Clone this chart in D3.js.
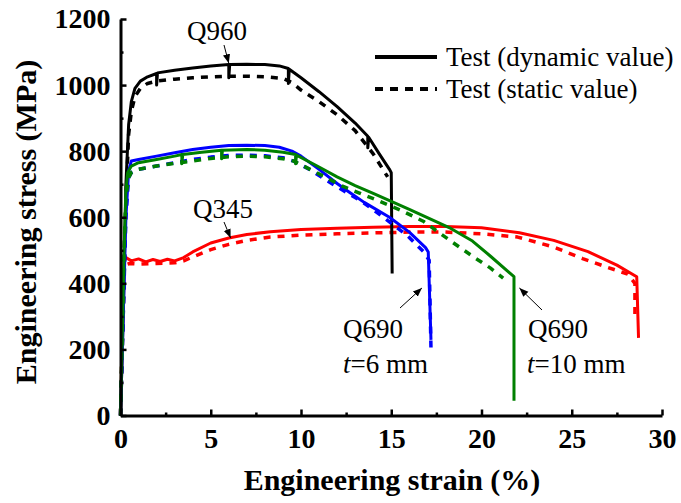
<!DOCTYPE html>
<html>
<head>
<meta charset="utf-8">
<script src="https://cdn.jsdelivr.net/npm/d3@7"></script>
<style>
  body { margin: 0; background: #fff; }
</style>
</head>
<body>
<div id="chart"></div>
<script>
// dati: [deformazione %, tensione MPa]
var q960Dyn = [[0,0],[0.15,300],[0.3,700],[0.45,880],[0.6,950],[0.8,990],[1.1,1012],[1.5,1025],[2,1035],[2,1000],[2.05,1037],
  [3,1045],[4,1052],[5,1058],[6,1062],[6,1022],[6.05,1062],[7,1063],[8,1062],[8.8,1058],[9.3,1050],[9.3,1005],[9.35,1048],
  [10,1022],[11,980],[12,935],[13,885],[13.7,845],[13.7,810],[13.75,842],[14.3,795],[14.9,745],[15,735],[15.05,430]];
var q960Sta = [[0,0],[0.15,300],[0.3,650],[0.45,850],[0.6,920],[0.8,965],[1.1,990],[1.5,1005],[2,1012],[3,1018],[4,1022],
  [5,1025],[6,1027],[7,1027],[8,1025],[9,1020],[9.5,1008],[10,985],[11,950],[12,910],[13,862],[14,792],[14.8,722]];
var q690t6Dyn = [[0,0],[0.15,300],[0.3,600],[0.45,740],[0.6,770],[1,775],[2,785],[3,795],[4,805],[5,812],[6,817],[7,818],
  [8,817],[8.8,812],[9.5,800],[10,785],[11,745],[12,702],[12.7,675],[13.5,645],[14.9,600],[16,555],[16.9,508],[17.05,495],[17.2,229]];
var q690t6Sta = [[0,0],[0.15,300],[0.3,600],[0.45,720],[0.6,735],[1,745],[2,755],[3,765],[4,775],[5,782],[6,787],[7,788],
  [8,786],[9,780],[9.6,770],[10.5,744],[12,692],[13.3,650],[14.2,615],[15.9,544],[16.8,495],[17.1,470],[17.2,205]];
var q690t10Dyn = [[0,0],[0.1,250],[0.2,500],[0.3,680],[0.4,735],[0.6,755],[1,765],[2,775],[3,785],[3.4,790],[3.4,762],[3.45,790],
  [4.5,797],[5.6,803],[5.6,777],[5.65,803],[7,805],[8,803],[9,797],[9.7,790],[9.7,762],[9.75,788],[11,752],[12,722],[13,696],
  [14,672],[15,648],[16,624],[17,599],[18.3,566],[19.5,528],[20.5,482],[21.8,420],[21.8,45]];
var q690t10Sta = [[0,0],[0.1,250],[0.2,500],[0.3,660],[0.45,720],[0.6,735],[1,745],[2,755],[3,763],[4,770],[5,778],[6,783],
  [7,785],[8,783],[9,777],[9.6,770],[10.5,745],[11.3,723],[12.3,694],[13.2,674],[14.2,652],[15.5,622],[16.8,587],[18.3,528],
  [19.5,482],[20.5,446],[21.2,416]];
var q345Dyn = [[0,0],[0.1,250],[0.2,470],[0.3,478],[0.6,468],[1,474],[1.4,465],[1.8,472],[2.2,466],[2.6,473],[3,468],[3.5,478],
  [4,495],[5,522],[6,537],[7,548],[8.3,556],[10,563],[12,567],[14,570],[16,572],[18,572],[20,568],[22.1,553],[24,530],
  [25.9,496],[27.5,455],[28.6,420],[28.7,235]];
var q345Sta = [[0,0],[0.1,240],[0.2,455],[0.5,460],[1,458],[2,460],[3,462],[3.5,468],[4,480],[5,502],[6,518],[7,530],
  [8.3,540],[10,546],[12,550],[14.2,553],[16,555],[18,555],[20,550],[22,540],[24,510],[25.6,475],[27,448],[28.1,428],
  [28.5,400],[28.5,290]];

var xTicks = [0,5,10,15,20,25,30];
var yTicks = [0,200,400,600,800,1000,1200];
var legendLabels = ["Test (dynamic value)", "Test (static value)"];

var larghezza = 681, altezza = 503;
var carattere = '"Times New Roman", "Liberation Serif", Times, "DejaVu Serif", serif';

var x = d3.scaleLinear().domain([0,30]).range([120.5,662]);
var y = d3.scaleLinear().domain([0,1200]).range([415.5,19]);

var svg = d3.select("#chart").append("svg")
  .attr("width", larghezza)
  .attr("height", altezza)
  .attr("font-family", carattere);

svg.append("defs").append("marker")
  .attr("id","freccia")
  .attr("viewBox","0 0 10 10")
  .attr("refX",10).attr("refY",5)
  .attr("markerWidth",9).attr("markerHeight",9)
  .attr("markerUnits","userSpaceOnUse")
  .attr("orient","auto")
  .append("path").attr("d","M0,1 L10,5 L0,9 z").attr("fill","#000");

var linea = d3.line().x(function(d){ return x(d[0]); }).y(function(d){ return y(d[1]); });

var serie = [
  {dati: q345Sta, colore: "#ff0000", tratt: true},
  {dati: q345Dyn, colore: "#ff0000", tratt: false},
  {dati: q960Sta, colore: "#000000", tratt: true},
  {dati: q960Dyn, colore: "#000000", tratt: false},
  {dati: q690t6Sta, colore: "#0000ff", tratt: true},
  {dati: q690t6Dyn, colore: "#0000ff", tratt: false},
  {dati: q690t10Sta, colore: "#008000", tratt: true},
  {dati: q690t10Dyn, colore: "#008000", tratt: false}
];

svg.selectAll("path.curva")
  .data(serie)
  .enter().append("path")
  .attr("class","curva")
  .attr("d", function(d){ return linea(d.dati); })
  .attr("fill","none")
  .attr("stroke", function(d){ return d.colore; })
  .attr("stroke-width", function(d){ return d.tratt ? 3.5 : 3; })
  .attr("stroke-dasharray", function(d){ return d.tratt ? "7,7" : null; })
  .attr("stroke-linejoin","round");

// assi
svg.append("g").attr("transform","translate(0,"+y(0)+")")
  .call(d3.axisBottom(x).tickValues(xTicks).tickSize(-6).tickSizeOuter(0).tickPadding(13).tickFormat(d3.format("d")));
svg.append("g").attr("transform","translate(0,"+y(0)+")")
  .call(d3.axisBottom(x).tickValues([2.5,7.5,12.5,17.5,22.5,27.5]).tickSize(-3).tickSizeOuter(0).tickFormat(""))
  .select(".domain").remove();
svg.append("g").attr("transform","translate("+x(0)+",0)")
  .call(d3.axisLeft(y).tickValues(yTicks).tickSize(-6).tickSizeOuter(0).tickPadding(10).tickFormat(d3.format("d")));
svg.append("g").attr("transform","translate("+x(0)+",0)")
  .call(d3.axisLeft(y).tickValues([100,300,500,700,900,1100]).tickSize(-3).tickSizeOuter(0).tickFormat(""))
  .select(".domain").remove();

svg.selectAll("g").attr("font-family", carattere);
svg.selectAll(".domain").attr("stroke","#000").attr("stroke-width",3);
svg.selectAll(".tick line").attr("stroke","#000").attr("stroke-width",2.5);
svg.selectAll(".tick text")
  .attr("fill","#000")
  .attr("font-size",28)
  .attr("font-weight","bold");

svg.append("text")
  .attr("x",392).attr("y",490)
  .attr("text-anchor","middle")
  .attr("font-size",30).attr("font-weight","bold")
  .text("Engineering strain (%)");
svg.append("text")
  .attr("transform","translate(36,222) rotate(-90)")
  .attr("text-anchor","middle")
  .attr("font-size",30).attr("font-weight","bold")
  .text("Engineering stress (MPa)");

// legenda
legendLabels.forEach(function(t,i){
  var yy = 57 + i*32;
  svg.append("line").attr("x1",375).attr("x2",437).attr("y1",yy).attr("y2",yy)
    .attr("stroke","#000").attr("stroke-width",4)
    .attr("stroke-dasharray", i==1 ? "8,7" : null);
  svg.append("text").attr("x",446).attr("y",yy+9)
    .attr("font-size",27).text(t);
});

// etichette con frecce
function freccia(x1,y1,x2,y2){
  svg.append("line").attr("x1",x1).attr("y1",y1).attr("x2",x2).attr("y2",y2)
    .attr("stroke","#000").attr("stroke-width",1)
    .attr("marker-end","url(#freccia)");
}
svg.append("text").attr("x",187).attr("y",40).attr("font-size",27).text("Q960");
freccia(224,45,x(6),y(1063)-1);
svg.append("text").attr("x",193).attr("y",218).attr("font-size",27).text("Q345");
freccia(224,222,x(6.1),y(540)+1);
svg.append("text").attr("x",343).attr("y",338).attr("font-size",27).text("Q690");
var t1 = svg.append("text").attr("x",343).attr("y",373).attr("font-size",27);
t1.append("tspan").attr("font-style","italic").text("t");
t1.append("tspan").text("=6 mm");
freccia(400,308,x(16.7),288);
svg.append("text").attr("x",528).attr("y",338).attr("font-size",27).text("Q690");
var t2 = svg.append("text").attr("x",527).attr("y",373).attr("font-size",27);
t2.append("tspan").attr("font-style","italic").text("t");
t2.append("tspan").text("=10 mm");
freccia(542,310,x(22.1),288);
</script>
</body>
</html>
